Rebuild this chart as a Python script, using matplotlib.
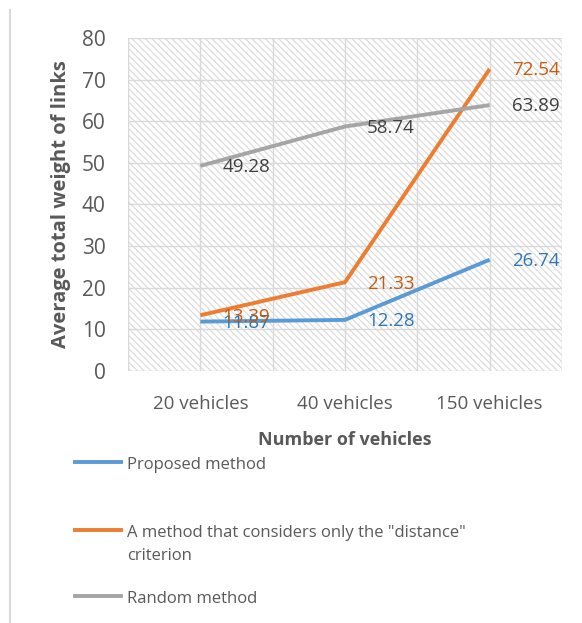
import matplotlib.pyplot as plt
from matplotlib.lines import Line2D
from matplotlib.patches import Rectangle

categories = ['20 vehicles', '40 vehicles', '150 vehicles']
proposed = [11.87, 12.28, 26.74]
distance = [13.39, 21.33, 72.54]
random_m = [49.28, 58.74, 63.89]
y_ticks = [0, 10, 20, 30, 40, 50, 60, 70, 80]

plt.rcParams['font.family'] = ['Open Sans', 'DejaVu Sans']
plt.rcParams['hatch.color'] = '#d9d9d9'
plt.rcParams['hatch.linewidth'] = 0.8

W, H = 582, 623
fig = plt.figure(figsize=(W / 100, H / 100), dpi=100)
ax = fig.add_axes([128 / W, 1 - 371 / H, 434 / W, 333 / H])

xs = [i + 0.5 for i in range(len(categories))]
ax.add_patch(Rectangle((0, 0), 3, 80, facecolor='white', edgecolor='#d9d9d9',
                       hatch='\\\\\\\\\\', linewidth=0, zorder=0))
for y in y_ticks:
    ax.axhline(y, color='#d9d9d9', lw=1, zorder=1)
for x in [0, 0.5, 1, 1.5, 2, 2.5, 3]:
    ax.axvline(x, color='#d9d9d9', lw=1, zorder=1)

series = [
    (proposed, '#5B9BD5', '#2E75B6', 'Proposed method'),
    (distance, '#ED7D31', '#C55A11', 'A method that considers only the "distance"\ncriterion'),
    (random_m, '#A5A5A5', '#404040', 'Random method'),
]
for vals, c, tc, name in series:
    ax.plot(xs, vals, color=c, lw=2.8, solid_capstyle='butt', zorder=3)
    for x, v in zip(xs, vals):
        ax.annotate(f'{v:.2f}', (x, v), xytext=(16, -1), textcoords='offset points',
                    color=tc, fontsize=13.5, va='center', ha='left', zorder=4)

ax.set_xlim(0, 3)
ax.set_ylim(0, 80)
ax.set_yticks(y_ticks)
ax.set_xticks(xs)
ax.set_xticklabels(categories)
ax.tick_params(axis='both', length=0, colors='#595959')
ax.tick_params(axis='y', pad=16, labelsize=15)
ax.tick_params(axis='x', pad=17, labelsize=13.5)
for s in ax.spines.values():
    s.set_visible(False)
ax.set_ylabel('Average total weight of links', fontsize=14.5, fontweight='bold',
              color='#595959', labelpad=8)
ax.set_xlabel('Number of vehicles', fontsize=13, fontweight='bold', color='#595959', labelpad=13)

# legend drawn by hand to keep Excel's uneven row spacing
legend_rows = [462, 530, 596]
for (_, c, _, name), yp in zip(series, legend_rows):
    fy = 1 - yp / H
    fig.add_artist(Line2D([75 / W, 121 / W], [fy, fy], color=c, lw=2.8,
                          transform=fig.transFigure))
    fig.text(127 / W, fy + 5 / H, name, fontsize=12, color='#595959',
             va='top', ha='left', linespacing=1.55)

fig.add_artist(Line2D([10 / W, 10 / W], [0, 1 - 10 / H], color='#d9d9d9', lw=1.5,
                      transform=fig.transFigure))

fig.savefig('out.png', dpi=100, facecolor='white')
